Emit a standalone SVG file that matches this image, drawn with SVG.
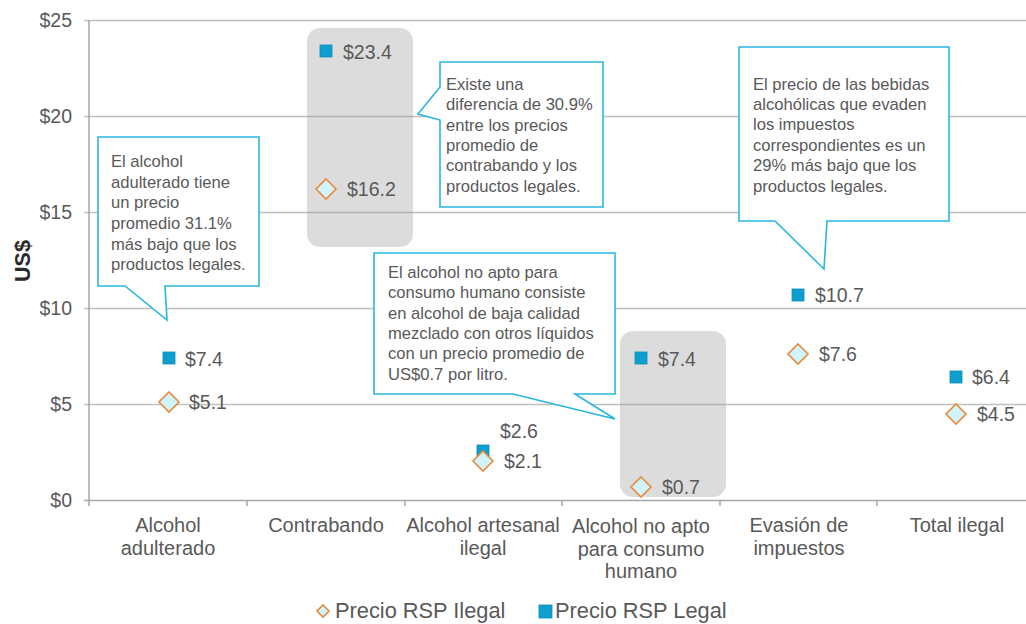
<svg xmlns="http://www.w3.org/2000/svg" width="1026" height="624" viewBox="0 0 1026 624">
<defs>
<style>
text{font-family:"Liberation Sans",Arial,sans-serif;fill:#595959}
.grid{stroke:#c0c0c0;stroke-width:1.5;fill:none}
.ax{stroke:#a6a6a6;stroke-width:1.5;fill:none}
.ytl{font-size:19.5px;text-anchor:end}
.cat{font-size:20px;text-anchor:middle}
.val{font-size:19.5px}
.note{font-size:16.6px}
.leg{font-size:21.8px}
.hl{fill:#9a9a9a;fill-opacity:0.35}
.callout{fill:#fff;stroke:#29b6df;stroke-width:1.6;stroke-linejoin:miter}
.sq{fill:#0f9fcf;stroke:#0b8dbb;stroke-width:0.8}
.dm{fill:#d0f4fb;stroke:#ea8a3a;stroke-width:1.6}
</style>
<rect id="sqm" x="-6" y="-6" width="12" height="12" class="sq"/>
<path id="dmm" d="M0,-10 L10,0 L0,10 L-10,0 Z" class="dm"/>
</defs>
<rect width="1026" height="624" fill="#fff"/>
<g id="axes">
<path class="grid" d="M84,20.5H1026M84,116.5H1026M84,212.5H1026M84,308.5H1026M84,404.5H1026"/>
<path class="ax" d="M84,500.5H1026M89,20V506M247,500V506M405,500V506M562,500V506M720,500V506M877,500V506"/>
<text class="ytl" x="72" y="27">$25</text>
<text class="ytl" x="72" y="123">$20</text>
<text class="ytl" x="72" y="219">$15</text>
<text class="ytl" x="72" y="315">$10</text>
<text class="ytl" x="72" y="411">$5</text>
<text class="ytl" x="72" y="507">$0</text>
<text x="30" y="261" transform="rotate(-90 30 261)" text-anchor="middle" style="font-size:21.5px;font-weight:bold;fill:#2b2b2b">US$</text>
</g>
<g id="highlights">
<rect class="hl" x="307" y="28" width="106" height="219" rx="13"/>
<rect class="hl" x="620" y="331" width="106" height="166" rx="13"/>
</g>
<g id="callout-adulterado">
<path class="callout" d="M98,137H259V286H165L167,320L125,286H98Z"/>
<text class="note"><tspan x="111" y="167">El alcohol</tspan><tspan x="111" y="188">adulterado tiene</tspan><tspan x="111" y="208">un precio</tspan><tspan x="111" y="229">promedio 31.1%</tspan><tspan x="111" y="250">más bajo que los</tspan><tspan x="111" y="270">productos legales.</tspan></text>
</g>
<g id="callout-contrabando">
<path class="callout" d="M440,62H603V207H440V120L418,114L440,87Z"/>
<text class="note"><tspan x="446" y="90">Existe una</tspan><tspan x="446" y="110">diferencia de 30.9%</tspan><tspan x="446" y="131">entre los precios</tspan><tspan x="446" y="151">promedio de</tspan><tspan x="446" y="171">contrabando y los</tspan><tspan x="446" y="192">productos legales.</tspan></text>
</g>
<g id="callout-evasion">
<path class="callout" d="M739,47H949V221H827L824,269L775,221H739Z"/>
<text class="note"><tspan x="753" y="90">El precio de las bebidas</tspan><tspan x="753" y="110">alcohólicas que evaden</tspan><tspan x="753" y="130">los impuestos</tspan><tspan x="753" y="151">correspondientes es un</tspan><tspan x="753" y="171">29% más bajo que los</tspan><tspan x="753" y="192">productos legales.</tspan></text>
</g>
<g id="callout-noapto">
<path class="callout" d="M374,253H615V394H575L615,419L513,394H374Z"/>
<text class="note"><tspan x="388" y="278">El alcohol no apto para</tspan><tspan x="388" y="298">consumo humano consiste</tspan><tspan x="388" y="319">en alcohol de baja calidad</tspan><tspan x="388" y="339">mezclado con otros líquidos</tspan><tspan x="388" y="359">con un precio promedio de</tspan><tspan x="388" y="380">US$0.7 por litro.</tspan></text>
</g>
<g id="cat-adulterado">
<use href="#sqm" x="169" y="358"/><text class="val" x="185" y="366">$7.4</text>
<use href="#dmm" x="169" y="402"/><text class="val" x="189" y="409">$5.1</text>
<text class="cat"><tspan x="168" y="532">Alcohol</tspan><tspan x="168" y="555">adulterado</tspan></text>
</g>
<g id="cat-contrabando">
<use href="#sqm" x="326" y="51"/><text class="val" x="343" y="59">$23.4</text>
<use href="#dmm" x="326" y="189"/><text class="val" x="347" y="196">$16.2</text>
<text class="cat" x="326" y="532">Contrabando</text>
</g>
<g id="cat-artesanal">
<use href="#sqm" x="483" y="451"/><text class="val" x="500" y="438">$2.6</text>
<use href="#dmm" x="483" y="461"/><text class="val" x="504" y="468">$2.1</text>
<text class="cat"><tspan x="483" y="532">Alcohol artesanal</tspan><tspan x="483" y="555">ilegal</tspan></text>
</g>
<g id="cat-noapto">
<use href="#sqm" x="641" y="358"/><text class="val" x="658" y="366">$7.4</text>
<use href="#dmm" x="641" y="487"/><text class="val" x="662" y="494">$0.7</text>
<text class="cat"><tspan x="641" y="533">Alcohol no apto</tspan><tspan x="641" y="556">para consumo</tspan><tspan x="641" y="578">humano</tspan></text>
</g>
<g id="cat-evasion">
<use href="#sqm" x="798" y="295"/><text class="val" x="815" y="302">$10.7</text>
<use href="#dmm" x="798" y="354"/><text class="val" x="819" y="361">$7.6</text>
<text class="cat"><tspan x="799" y="532">Evasión de</tspan><tspan x="799" y="555">impuestos</tspan></text>
</g>
<g id="cat-total">
<use href="#sqm" x="956" y="377"/><text class="val" x="972" y="384">$6.4</text>
<use href="#dmm" x="956" y="414"/><text class="val" x="977" y="421">$4.5</text>
<text class="cat" x="957" y="532">Total ilegal</text>
</g>
<g id="legend">
<path class="dm" d="M323,605L329,611L323,617L317,611Z"/>
<text class="leg" x="335" y="618">Precio RSP Ilegal</text>
<rect class="sq" x="539" y="605" width="13" height="13"/>
<text class="leg" x="555" y="618">Precio RSP Legal</text>
</g>
</svg>
